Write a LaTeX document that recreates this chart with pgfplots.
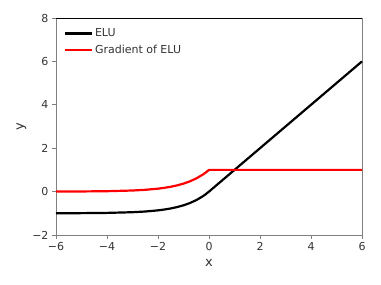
\documentclass[border=0pt]{standalone}
\usepackage{pgfplots}
\pgfplotsset{compat=1.18}
\usepackage{fontspec}
\setmainfont{DejaVu Sans}
\definecolor{spine}{gray}{0.5}
\definecolor{txt}{gray}{0.2}
\begin{document}
\begin{tikzpicture}
\begin{axis}[
  scale only axis, width=306pt, height=217pt,
  xmin=-6, xmax=6, ymin=-2, ymax=8,
  clip=false,
  xtick={-6,-4,-2,0,2,4,6},
  xticklabels={−6,−4,−2,0,2,4,6},
  ytick={-2,0,2,4,6,8},
  yticklabels={−2,0,2,4,6,8},
  tick align=outside, tick pos=lower,
  major tick length=4pt,
  every tick/.style={spine, line width=0.8pt},
  tick label style={font=\fontsize{11}{13}\selectfont, text=txt},
  xlabel={x}, ylabel={y},
  label style={font=\fontsize{13}{15}\selectfont, text=txt},
  xlabel style={yshift=-2pt},
  ylabel style={yshift=-1pt},
  axis line style={spine, line width=0.8pt},
  legend style={draw=none, fill=none, at={(0.015,0.97)}, anchor=north west,
    font=\fontsize{11}{13}\selectfont, text=txt, row sep=3pt},
  legend cell align=left,
  legend image code/.code={\draw[#1] (0cm,0cm) -- (0.95cm,0cm);},
]
\draw[black, line width=0.8pt] (rel axis cs:0,1) -- (rel axis cs:1,1);
\addplot[black, line width=2.2pt] coordinates {
(-6,-0.99752) (-5,-0.99326) (-4,-0.98168) (-3,-0.95021) (-2.5,-0.91792)
(-2,-0.86466) (-1.75,-0.82623) (-1.5,-0.77687) (-1.25,-0.71350) (-1,-0.63212)
(-0.75,-0.52763) (-0.5,-0.39347) (-0.25,-0.22120) (-0.125,-0.11750) (0,0) (6,6)};
\addlegendentry{ELU}
\addplot[red, line width=2.2pt] coordinates {
(-6,0.00248) (-5,0.00674) (-4,0.01832) (-3,0.04979) (-2.5,0.08208)
(-2,0.13534) (-1.75,0.17377) (-1.5,0.22313) (-1.25,0.28650) (-1,0.36788)
(-0.75,0.47237) (-0.5,0.60653) (-0.25,0.77880) (-0.125,0.88250) (0,1) (6,1)};
\addlegendentry{Gradient of ELU}
\end{axis}
\path[use as bounding box] ([shift={(-56pt,-50pt)}]current axis.south west) rectangle ([shift={(19pt,18pt)}]current axis.north east);
\end{tikzpicture}
\end{document}
